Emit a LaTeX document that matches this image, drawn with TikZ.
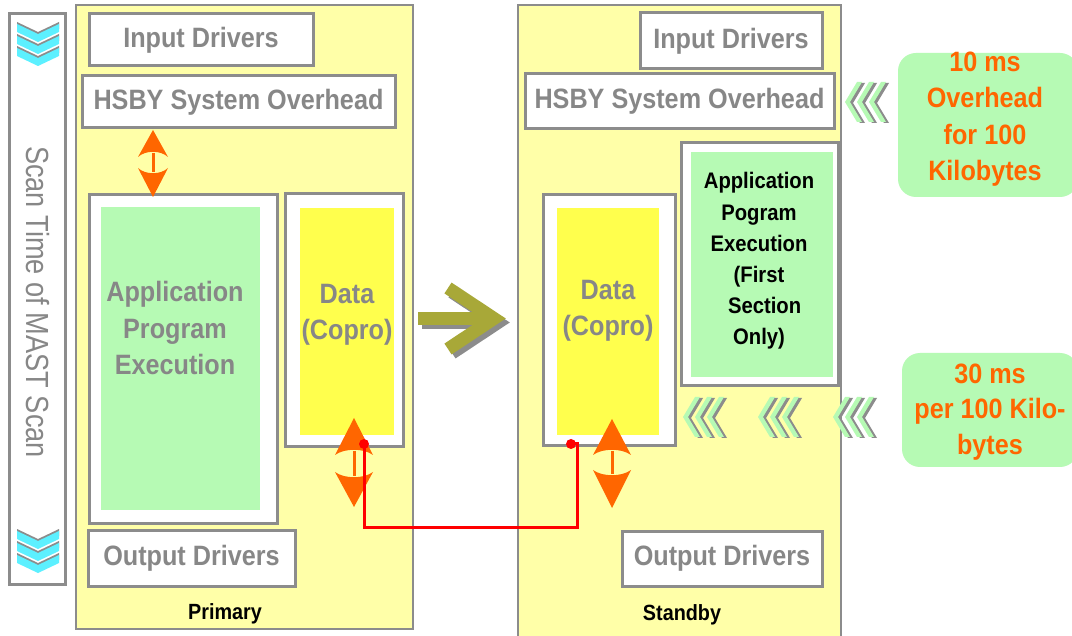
\documentclass[tikz,border=0pt]{standalone}
\usepackage{fontspec}
\setmainfont{Liberation Sans}[FakeStretch=0.9]
\newfontfamily\scanfont{Liberation Sans}[FakeStretch=0.85]
\usetikzlibrary{calc}
\definecolor{panelY}{HTML}{FFFFA8}
\definecolor{bgray}{HTML}{8C8C8C}
\definecolor{tgray}{HTML}{878787}
\definecolor{lgreen}{HTML}{B6FAB4}
\definecolor{dyellow}{HTML}{FFFF4D}
\definecolor{orng}{HTML}{FF6600}
\definecolor{olv}{HTML}{A8A838}
\definecolor{cyn}{HTML}{5CF0FF}
\newcommand{\dblarrow}[6]{%
  \fill[orng] (#1,#2) -- (#1+#6,#3) .. controls (#1+#6*0.5,#3-7) and (#1-#6*0.5,#3-7) .. (#1-#6,#3) -- cycle;
  \draw[orng, line width=3] (#1,#3-4) -- (#1,#4+4);
  \fill[orng] (#1,#5) -- (#1-#6,#4) .. controls (#1-#6*0.5,#4+7) and (#1+#6*0.5,#4+7) .. (#1+#6,#4) -- cycle;}
\newcommand{\gchev}[2]{%
  \fill[bgray] (#1+3,#2+1) -- ++(12,-20) -- ++(5,0) -- ++(-12,20) -- ++(12,20) -- ++(-5,0) -- cycle;
  \fill[lgreen] (#1,#2) -- ++(12,-20) -- ++(5,0) -- ++(-12,20) -- ++(12,20) -- ++(-5,0) -- cycle;}
\newcommand{\cchev}[1]{%
  \fill[bgray] (17,#1-2) -- (38,#1+8) -- (59,#1-2) -- (59,#1+5) -- (38,#1+15) -- (17,#1+5) -- cycle;
  \fill[cyn] (17,#1) -- (38,#1+10) -- (59,#1) -- (59,#1+8) -- (38,#1+18) -- (17,#1+8) -- cycle;}
\newcommand{\olivearrow}[1]{%
  \draw[line width=13, #1] (418,318.5) -- (490,318.5);
  \draw[line width=13, #1, line join=miter] (448,288) -- (494,318.5) -- (448,349);}
\tikzset{
  gbox/.style={draw=bgray, line width=3, fill=white, inner sep=0},
  inbox/.style={inner sep=0},
  panel/.style={draw=bgray, line width=2, fill=panelY},
  gtext/.style={text=tgray, font=\fontsize{28}{36.5}\selectfont\bfseries, align=center},
  btext/.style={text=black, font=\fontsize{22.5}{31.2}\selectfont\bfseries, align=center},
  lbl/.style={text=black, font=\fontsize{22}{26}\selectfont\bfseries},
  otext/.style={text=orng, font=\fontsize{28}{36.3}\selectfont\bfseries, align=center},
  bubble/.style={fill=lgreen, rounded corners=18, inner sep=0}
}
\begin{document}
\begin{tikzpicture}[x=1pt,y=-1pt]
\useasboundingbox (0,0) rectangle (1072,636);
\fill[white] (0,0) rectangle (1072,636);
% scan bar
\node[gbox, minimum width=56, minimum height=570] (scan) at (37,299) {};
\foreach \y in {24,36,48} {\cchev{\y}}
\foreach \y in {531,543,555} {\cchev{\y}}
\node[text=tgray, font=\scanfont\fontsize{32}{32}\selectfont, rotate=-90] (scantxt) at (38,302) {Scan Time of MAST Scan};
% panels
\draw[panel] (76,5) rectangle (413,629);
\draw[panel] (518,5) rectangle (841,645);
% primary boxes
\node[gbox, gtext, minimum width=224, minimum height=52] (pin) at (201,40) {Input Drivers};
\node[gbox, gtext, minimum width=313, minimum height=52] (phs) at (238.5,102) {HSBY System Overhead};
\node[gbox, minimum width=188, minimum height=328] (papp) at (183,359) {};
\node[inbox, fill=lgreen, minimum width=159, minimum height=303] (pappin) at (180.5,358.5) {};
\node[gtext] (papptxt) at (175,328) {Application\\Program\\Execution};
\node[gbox, minimum width=118, minimum height=253] (pdat) at (344,320.5) {};
\node[inbox, fill=dyellow, minimum width=94, minimum height=227] (pdatin) at (347,321.5) {};
\node[gtext] (pdattxt) at (347,315) {Data\\(Copro)};
\node[gbox, gtext, minimum width=207, minimum height=56] (pout) at (191.5,558) {Output Drivers};
\node[lbl] (plbl) at (225,614) {Primary};
% standby boxes
\node[gbox, gtext, minimum width=182, minimum height=56] (sin) at (731,41) {Input Drivers};
\node[gbox, gtext, minimum width=309, minimum height=55] (shs) at (679.5,101.5) {HSBY System Overhead};
\node[gbox, minimum width=157, minimum height=243] (sapp) at (759.5,264.5) {};
\node[inbox, fill=lgreen, minimum width=142, minimum height=225] (sappin) at (762,264.5) {};
\node[btext] (sapptxt) at (759,261) {Application\\Pogram\\Execution\\(First\\\hspace*{0.5em}Section\\Only)};
\node[gbox, minimum width=132, minimum height=251] (sdat) at (609,320.5) {};
\node[inbox, fill=dyellow, minimum width=102, minimum height=227] (sdatin) at (608,321.5) {};
\node[gtext] (sdattxt) at (608,311) {Data\\(Copro)};
\node[gbox, gtext, minimum width=200, minimum height=55] (sout) at (722,558.5) {Output Drivers};
\node[lbl] (slbl) at (682,615) {Standby};
% transfer arrow
\begin{scope}[shift={(4,4)}]\olivearrow{bgray}\end{scope}
\olivearrow{olv}
% chevrons
\foreach \t in {0,12,24} {\gchev{845+\t}{102}}
\foreach \g in {683,758,833} {\foreach \t in {0,12,24} {\gchev{\g+\t}{417}}}
% bubbles
\node[bubble, minimum width=180, minimum height=144] (b1) at (988,125) {};
\node[otext] (b1txt) at (985,119) {10 ms\\Overhead\\for 100\\Kilobytes};
\node[bubble, minimum width=176, minimum height=114] (b2) at (990,410) {};
\node[otext, font=\fontsize{28}{35.5}\selectfont\bfseries] (b2txt) at (990,412) {30 ms\\per 100 Kilo-\\bytes};
% orange double arrows
\dblarrow{153}{130}{157}{168}{197}{15}
\dblarrow{354}{418}{455}{472}{507}{19}
\dblarrow{612}{419}{455}{470}{508}{19}
% red link
\coordinate (rd1) at (364,444);
\coordinate (rd2) at (571,444);
\draw[red, line width=3] (rd1) -- ++(0,83) -| ($(rd2)+(6,0)$) -- (rd2);
\fill[red] (rd1) circle[radius=5];
\fill[red] (rd2) circle[radius=5];
\end{tikzpicture}
\end{document}
